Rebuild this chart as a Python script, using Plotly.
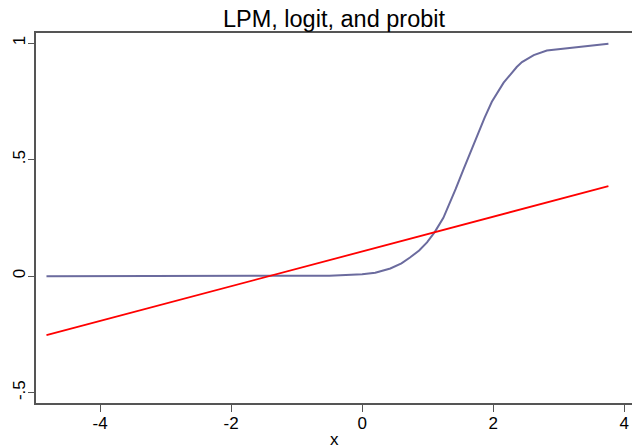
import plotly.graph_objects as go

# LPM (linear) fitted values
lpm_x = [-4.82, 3.76]
lpm_y = [-0.253, 0.386]

# Logit/probit fitted values (S-curve)
curve_x = [-4.82, -3.0, -2.0, -1.0, -0.5, 0.0, 0.2, 0.43, 0.6, 0.73, 0.87, 0.99, 1.11,
           1.24, 1.32, 1.43, 1.55, 1.65, 1.75, 1.87, 1.98, 2.16, 2.36, 2.44, 2.62, 2.82, 3.76]
curve_y = [0.0, 0.0, 0.0, 0.0005, 0.002, 0.008, 0.015, 0.033, 0.055, 0.08, 0.11, 0.145, 0.19,
           0.25, 0.30, 0.375, 0.46, 0.53, 0.60, 0.68, 0.748, 0.83, 0.897, 0.918, 0.948, 0.968, 0.997]

x_ticks = [-4, -2, 0, 2, 4]
x_ticklabels = ["-4", "-2", "0", "2", "4"]
y_ticks = [-0.5, 0, 0.5, 1]
y_ticklabels = ["-.5", "0", ".5", "1"]

fig = go.Figure()
fig.add_trace(go.Scatter(x=curve_x, y=curve_y, mode="lines",
                         line=dict(color="#6b6b9e", width=2), showlegend=False))
fig.add_trace(go.Scatter(x=lpm_x, y=lpm_y, mode="lines",
                         line=dict(color="#ff0000", width=1.8), showlegend=False))

font_family = "Liberation Sans, Arial, sans-serif"
fig.update_layout(
    width=632, height=445,
    margin=dict(l=36, r=0, t=33, b=42, autoexpand=False),
    paper_bgcolor="white", plot_bgcolor="white",
    font=dict(family=font_family, color="black", size=17),
    title=dict(text="LPM, logit, and probit", x=0.5, xref="paper", xanchor="center",
               y=0.958, yref="container", yanchor="middle",
               font=dict(size=23.5, family=font_family, color="black")),
    xaxis=dict(range=[-4.98, 4.12], tickvals=x_ticks, ticktext=x_ticklabels,
               automargin=False,
               showgrid=False, zeroline=False, showline=True, linecolor="#555555",
               linewidth=1.5, mirror=True, ticks="outside", ticklen=7, tickcolor="#555555",
               tickwidth=1.3, tickfont=dict(size=17), ticklabelstandoff=-3),
    yaxis=dict(range=[-0.544, 1.043], tickvals=y_ticks, ticktext=y_ticklabels,
               automargin=False,
               showgrid=False, zeroline=False, showline=True, linecolor="#555555",
               linewidth=1.5, mirror=False, ticks="outside", ticklen=6, tickcolor="#555555",
               tickwidth=1.3, tickangle=-90, tickfont=dict(size=17), ticklabelstandoff=-4),
    annotations=[dict(text="x", xref="paper", yref="paper", x=0.5, y=0,
                      xanchor="center", yanchor="top", yshift=-25, showarrow=False,
                      font=dict(size=17, family=font_family, color="black"))],
)

fig.write_html("out.html", config={"displayModeBar": False},
               post_script="document.body.style.margin='0';document.body.style.overflow='hidden';")
